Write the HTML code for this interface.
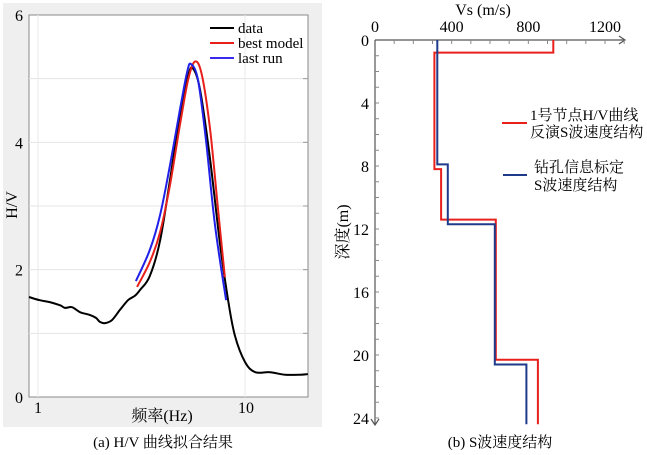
<!DOCTYPE html>
<html><head><meta charset="utf-8"><style>
body{margin:0;background:#fff;}
svg{display:block;font-family:"Liberation Serif","Noto Serif CJK SC",serif;}
</style></head><body>
<svg id="c" width="647" height="455" viewBox="0 0 647 455" xmlns="http://www.w3.org/2000/svg">
<rect x="3" y="3" width="319" height="424" fill="#efefef"/>
<rect x="29" y="15" width="279" height="382" fill="#fff" stroke="#888" stroke-width="1"/>
<g id="gA"></g>
<g id="gB"></g>
<text x="163" y="447" font-size="15" text-anchor="middle">(a) H/V 曲线拟合结果</text>
<text x="500" y="447" font-size="15" text-anchor="middle">(b) S波速度结构</text>
</svg>
<script>
// Panel (a) data
const dataFreq=[0.905,1.02,1.14,1.28,1.35,1.46,1.60,1.78,1.91,1.99,2.11,2.28,2.49,2.72,2.94,3.11,3.47,3.89,4.34,4.85,5.31,5.61,6.07,6.79,7.58,8.29,8.93,10,11.2,13.2,15.6,18.5,20.1];
const dataHV=[1.57,1.52,1.49,1.44,1.40,1.41,1.33,1.29,1.24,1.18,1.16,1.21,1.37,1.52,1.59,1.68,1.90,2.46,3.41,4.43,5.05,5.16,4.82,3.72,2.39,1.52,0.97,0.55,0.39,0.39,0.35,0.35,0.36];
const bestFreq=[3.01,3.47,3.89,4.34,4.85,5.31,5.74,6.20,6.79,7.41,8.0];
const bestHV=[1.73,2.12,2.59,3.33,4.27,4.98,5.27,5.05,4.19,2.94,1.88];
const lastFreq=[2.97,3.47,3.89,4.34,4.85,5.25,5.48,5.93,6.48,7.16,8.1];
const lastHV=[1.82,2.31,2.86,3.64,4.51,5.10,5.23,4.98,4.03,2.70,1.52];
const hvTicks=[0,2,4,6];
const freqTicks=[1,10];
// Panel (b) data
const vsTicks=[0,400,800,1200];
const depthTicks=[0,4,8,12,16,20,24];
const redVs=[930,310,345,630,850];
const redTop=[0,0.8,8.2,11.4,20.3];
const blueVs=[325,380,625,790];
const blueTop=[0,7.9,11.7,20.6];
const maxDepth=24.4;

const NS='http://www.w3.org/2000/svg';
function mk(p,t,a,txt){const e=document.createElementNS(NS,t);for(const k in a)e.setAttribute(k,a[k]);if(txt!==undefined)e.textContent=txt;p.appendChild(e);return e;}
const gA=document.getElementById('gA'),gB=document.getElementById('gB');
const fx=f=>38+207*Math.log10(f);
const hy=v=>397-63.67*v;
for(let v=1;v<6;v++){const l=mk(gA,'line',{x1:29,x2:308,y1:hy(v),y2:hy(v),stroke:'#e4e4e4'});


const t=mk(gA,'line',{x1:303,x2:308,y1:hy(v),y2:hy(v),stroke:'#999'});

}
hvTicks.forEach(v=>{const t=mk(gA,'text',{x:19,y:hy(v)+6,'font-size':16,'text-anchor':'middle'},v);

});
freqTicks.forEach(f=>{const t=mk(gA,'text',{x:fx(f)+(f==10?1:0),y:413,'font-size':16,'text-anchor':'middle'},f);


const l=mk(gA,'line',{x1:fx(f),x2:fx(f),y1:15,y2:397,stroke:'#eaeaea'});

});
let t1=mk(gA,'text',{x:162,y:421,'font-size':16,'text-anchor':'middle'},'频率(Hz)');


let t2=mk(gA,'text',{x:0,y:0,'font-size':16,'text-anchor':'middle',transform:'translate(17,205) rotate(-90)'},'H/V');


function smooth(P){let d='M'+P[0][0].toFixed(1)+','+P[0][1].toFixed(1);
for(let i=0;i<P.length-1;i++){const p0=P[i-1]||P[i],p1=P[i],p2=P[i+1],p3=P[i+2]||P[i+1];
const c1=[p1[0]+(p2[0]-p0[0])/6,p1[1]+(p2[1]-p0[1])/6],c2=[p2[0]-(p3[0]-p1[0])/6,p2[1]-(p3[1]-p1[1])/6];
d+='C'+c1.map(n=>n.toFixed(1))+' '+c2.map(n=>n.toFixed(1))+' '+p2[0].toFixed(1)+','+p2[1].toFixed(1);}
return d;}
function curve(g,xs,ys,fxn,fyn,col,name){const P=xs.map((x,i)=>[fxn(x),fyn(ys[i])]);
const p=mk(g,'path',{d:smooth(P),fill:'none',stroke:col,'stroke-width':2,'stroke-linejoin':'round'});

}
curve(gA,dataFreq,dataHV,fx,hy,'#000','data-line');
curve(gA,bestFreq,bestHV,fx,hy,'#e8201c','best-model-line');
curve(gA,lastFreq,lastHV,fx,hy,'#2020e8','last-run-line');
[['data','#000',28],['best model','#e8201c',43],['last run','#3a2af0',58]].forEach(([n,c,y])=>{
const l=mk(gA,'line',{x1:210,x2:234,y1:y,y2:y,stroke:c,'stroke-width':2});


const t=mk(gA,'text',{x:238,y:y+5,'font-size':15},n);

});
// panel b
const vx=v=>375+v*0.19167;
const dy=d=>40+d*15.75;
let ax=mk(gB,'path',{d:'M375,40 H625 M619,36 L625,40 L619,44 M375,40 V425 M371,419 L375,425 L379,419',fill:'none',stroke:'#555','stroke-width':1.2});


for(let v=100;v<=1300;v+=100){const l=mk(gB,'line',{x1:vx(v),x2:vx(v),y1:40,y2:44,stroke:'#888'});

}
for(let d=1;d<=24;d++){const l=mk(gB,'line',{x1:375,x2:379,y1:dy(d),y2:dy(d),stroke:'#888'});

}
vsTicks.forEach(v=>{const t=mk(gB,'text',{x:vx(v),y:32,'font-size':16,'text-anchor':'middle'},v);

});
depthTicks.forEach(d=>{const t=mk(gB,'text',{x:369,y:dy(d)+6,'font-size':16,'text-anchor':'end'},d);

});
let t3=mk(gB,'text',{x:483,y:15,'font-size':16,'text-anchor':'middle'},'Vs (m/s)');


let t4=mk(gB,'text',{x:0,y:0,'font-size':16,'text-anchor':'middle',transform:'translate(348,232) rotate(-90)'},'深度(m)');


function step(vs,top,col,name){let d='';vs.forEach((v,i)=>{const b=i+1<top.length?top[i+1]:maxDepth;d+=(i?'L':'M')+vx(v).toFixed(1)+','+dy(top[i]).toFixed(1)+'L'+vx(v).toFixed(1)+','+dy(b).toFixed(1);});
const p=mk(gB,'path',{d:d,fill:'none',stroke:col,'stroke-width':2});

}
step(redVs,redTop,'#e8201c','inverted-vs-profile');
step(blueVs,blueTop,'#1e3a8a','borehole-vs-profile');
let l1=mk(gB,'line',{x1:502,x2:527,y1:123,y2:123,stroke:'#e8201c','stroke-width':2});


let l2=mk(gB,'line',{x1:503,x2:527,y1:175,y2:175,stroke:'#1e3a8a','stroke-width':2});


[['1号节点H/V曲线',530,120],['反演S波速度结构',530,137],['钻孔信息标定',534,172],['S波速度结构',534,190]].forEach(([s,x,y])=>{
const t=mk(gB,'text',{x:x,y:y,'font-size':15},s);

});
</script>
</body></html>
